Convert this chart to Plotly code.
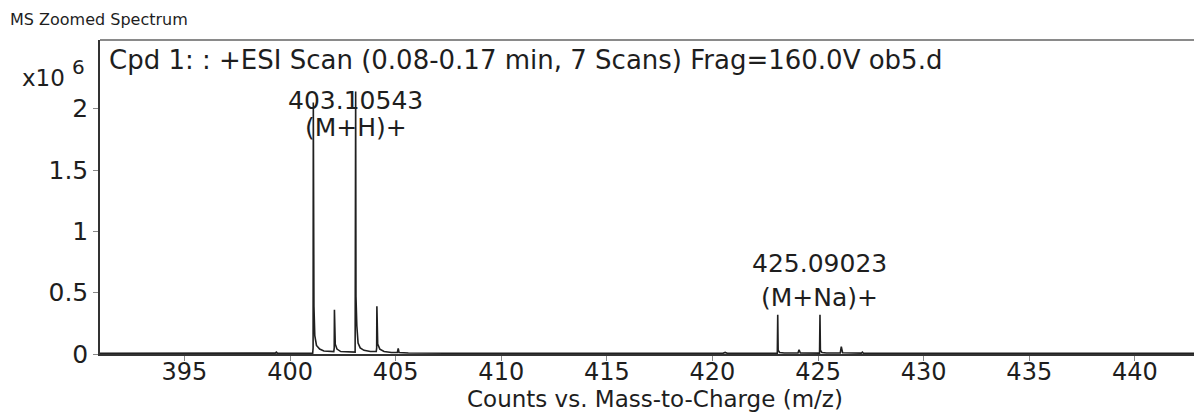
import plotly.graph_objects as go

# Profile spectrum: m/z values and counts (x10^6)
mz = [391.0, 393.5, 396.2, 399.3, 399.35, 399.4, 400.6,
      401.07, 401.09, 401.10, 401.13, 401.17, 401.25, 401.40, 401.60, 401.90,
      402.07, 402.09, 402.10, 402.14, 402.22, 402.40, 402.80,
      403.08, 403.10543, 403.12, 403.16, 403.22, 403.32, 403.50, 403.80,
      404.08, 404.10, 404.11, 404.15, 404.25, 404.45, 404.80,
      405.08, 405.12, 405.16, 405.60, 408.0, 411.5, 414.0, 417.8, 418.0, 418.2,
      420.5, 420.6, 420.7, 423.0,
      423.07, 423.09, 423.11, 423.18, 423.40,
      424.05, 424.10, 424.16, 424.50,
      425.07, 425.09023, 425.11, 425.18, 425.40,
      426.05, 426.10, 426.16, 426.60,
      427.05, 427.10, 427.15, 429.5, 431.2, 431.3, 431.4, 436.0, 439.2, 439.3, 439.4,
      441.0, 441.1, 441.2, 442.8]
counts = [0.006, 0.006, 0.007, 0.007, 0.015, 0.007, 0.006,
          0.006, 0.05, 2.05, 0.39, 0.15, 0.07, 0.04, 0.025, 0.02,
          0.02, 0.05, 0.36, 0.08, 0.04, 0.02, 0.015,
          0.015, 2.14, 0.47, 0.23, 0.09, 0.05, 0.03, 0.02,
          0.02, 0.05, 0.39, 0.08, 0.04, 0.02, 0.012,
          0.012, 0.045, 0.012, 0.008, 0.006, 0.006, 0.006, 0.006, 0.012, 0.006,
          0.006, 0.013, 0.006, 0.006,
          0.006, 0.32, 0.03, 0.012, 0.008,
          0.008, 0.035, 0.008, 0.007,
          0.007, 0.32, 0.03, 0.012, 0.008,
          0.008, 0.06, 0.01, 0.007,
          0.007, 0.015, 0.006, 0.006, 0.006, 0.012, 0.006, 0.006, 0.006, 0.011, 0.006,
          0.006, 0.011, 0.006, 0.006]

x_ticks = [395, 400, 405, 410, 415, 420, 425, 430, 435, 440]
y_ticks = [0, 0.5, 1, 1.5, 2]
y_tick_text = ["0", "0.5", "1", "1.5", "2"]

# peak m/z, mass label, ion label, paper-y of mass label, paper-y of ion label
peak_labels = [(403.10543, "403.10543", "(M+H)+", 0.808, 0.72),
               (425.09023, "425.09023", "(M+Na)+", 0.289, 0.181)]

FONT = "DejaVu Sans"
INK = "#1e1e1e"

fig = go.Figure()
fig.add_trace(go.Scatter(x=mz, y=counts, mode="lines",
                         line=dict(color="#202020", width=1.6),
                         hoverinfo="skip", showlegend=False))

for x, mass, ion, ym, yi in peak_labels:
    fig.add_annotation(x=x, y=ym, xref="x", yref="paper", text=mass,
                       xanchor="center", yanchor="middle", showarrow=False,
                       font=dict(family=FONT, size=25, color=INK))
    fig.add_annotation(x=x, y=yi, xref="x", yref="paper", text=ion,
                       xanchor="center", yanchor="middle", showarrow=False,
                       font=dict(family=FONT, size=25, color=INK))

# header, scan description, multiplier and axis title
fig.add_annotation(text="MS Zoomed Spectrum", xref="paper", yref="paper",
                   x=-0.084, y=1.064, xanchor="left", yanchor="middle",
                   showarrow=False, font=dict(family=FONT, size=16, color=INK))
fig.add_annotation(text="Cpd 1: : +ESI Scan (0.08-0.17 min, 7 Scans) Frag=160.0V ob5.d",
                   xref="paper", yref="paper", x=0.006, y=0.935,
                   xanchor="left", yanchor="middle", showarrow=False,
                   font=dict(family=FONT, size=26, color=INK))
fig.add_annotation(text="x10", xref="paper", yref="paper", x=-0.073, y=0.88,
                   xanchor="left", yanchor="middle", showarrow=False,
                   font=dict(family=FONT, size=23, color=INK))
fig.add_annotation(text="6", xref="paper", yref="paper", x=-0.027, y=0.915,
                   xanchor="left", yanchor="middle", showarrow=False,
                   font=dict(family=FONT, size=20, color=INK))
fig.add_annotation(text="Counts vs. Mass-to-Charge (m/z)", xref="paper", yref="paper",
                   x=0.507, y=-0.142, xanchor="center", yanchor="middle",
                   showarrow=False, font=dict(family=FONT, size=23, color=INK))

fig.update_layout(
    width=1194, height=416,
    margin=dict(l=100, r=0, t=40, b=62),
    paper_bgcolor="white", plot_bgcolor="white",
    font=dict(family=FONT, size=25, color=INK),
    showlegend=False,
)
fig.update_xaxes(range=[391.0, 442.8], tickvals=x_ticks, ticks="outside",
                 ticklen=5, tickcolor="#888", showgrid=False, zeroline=False,
                 showline=True, linecolor="#333", linewidth=1.5, mirror=False,
                 ticklabelstandoff=-10,
                 tickfont=dict(family=FONT, size=24, color=INK))
fig.update_yaxes(range=[0, 2.56], tickvals=y_ticks, ticktext=y_tick_text,
                 ticks="outside", ticklen=5, tickcolor="#888", showgrid=False,
                 zeroline=False, showline=True, linecolor="#333", linewidth=1.5,
                 tickfont=dict(family=FONT, size=25, color=INK))
# grey top frame of the plot box
fig.add_shape(type="line", xref="paper", yref="paper", x0=0, x1=1, y0=1, y1=1,
              line=dict(color="#8a8a8a", width=2))

fig.write_html("out.html")
